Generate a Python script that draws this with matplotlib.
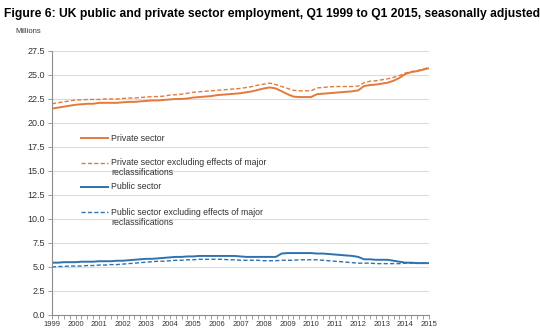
import numpy as np
import matplotlib
matplotlib.use("Agg")
import matplotlib.pyplot as plt
from matplotlib.ticker import MultipleLocator
from matplotlib.lines import Line2D

plt.rcParams['font.family'] = ['Liberation Sans', 'DejaVu Sans']

# Quarterly series, Q1 1999 to Q1 2015 (millions)
private_sector = [
    21.5, 21.6, 21.7, 21.8,
    21.9, 21.95, 22.0, 22.0,
    22.1, 22.1, 22.1, 22.1,
    22.15, 22.2, 22.2, 22.25,
    22.3, 22.35, 22.35, 22.4,
    22.45, 22.5, 22.5, 22.55,
    22.65, 22.7, 22.75, 22.8,
    22.9, 22.95, 23.0, 23.05,
    23.1, 23.2, 23.3, 23.45,
    23.6, 23.7, 23.6, 23.3,
    23.0, 22.75, 22.7, 22.7,
    22.7, 23.0, 23.05, 23.1,
    23.15, 23.2, 23.25, 23.3,
    23.4, 23.85, 23.95, 24.0,
    24.1, 24.2, 24.4, 24.7,
    25.1, 25.3, 25.4, 25.55,
    25.7,
]
private_excl = [
    22.0, 22.1, 22.2, 22.3,
    22.4, 22.4, 22.45, 22.45,
    22.45, 22.5, 22.5, 22.5,
    22.55, 22.6, 22.6, 22.65,
    22.7, 22.75, 22.75, 22.8,
    22.9, 22.95, 23.0, 23.1,
    23.2, 23.25, 23.3, 23.35,
    23.4, 23.45, 23.5, 23.55,
    23.6, 23.7, 23.8, 23.95,
    24.05, 24.15, 24.0, 23.8,
    23.6, 23.4, 23.35, 23.35,
    23.35, 23.65, 23.7, 23.75,
    23.8, 23.8, 23.8, 23.8,
    23.85, 24.2, 24.35, 24.4,
    24.5, 24.6, 24.75, 24.95,
    25.2, 25.35, 25.45, 25.6,
    25.8,
]
public_sector = [
    5.45, 5.45, 5.5, 5.5,
    5.5, 5.55, 5.55, 5.55,
    5.6, 5.6, 5.6, 5.65,
    5.65, 5.7, 5.75, 5.8,
    5.85, 5.85, 5.9, 5.95,
    6.0, 6.05, 6.05, 6.1,
    6.1, 6.15, 6.15, 6.15,
    6.15, 6.15, 6.15, 6.15,
    6.1, 6.05, 6.05, 6.05,
    6.05, 6.05, 6.05, 6.4,
    6.45, 6.45, 6.45, 6.45,
    6.45, 6.4, 6.4, 6.35,
    6.3, 6.25, 6.2, 6.15,
    6.05, 5.8, 5.8, 5.75,
    5.75, 5.75, 5.65, 5.55,
    5.45, 5.45, 5.4, 5.4,
    5.4,
]
public_excl = [
    5.0, 5.05, 5.05, 5.1,
    5.1, 5.1, 5.15, 5.15,
    5.2, 5.2, 5.25, 5.25,
    5.3, 5.35, 5.4, 5.45,
    5.5, 5.55, 5.6, 5.6,
    5.65, 5.7, 5.7, 5.75,
    5.75, 5.8, 5.8, 5.8,
    5.8, 5.8, 5.75, 5.75,
    5.7, 5.7, 5.7, 5.7,
    5.65, 5.65, 5.65, 5.7,
    5.7, 5.7, 5.75, 5.75,
    5.75, 5.75, 5.7, 5.65,
    5.6, 5.55, 5.5, 5.45,
    5.4, 5.4, 5.4, 5.35,
    5.35, 5.35, 5.35, 5.35,
    5.4, 5.4, 5.4, 5.4,
    5.4,
]
years = list(range(1999, 2016))
series_labels = [
    'Private sector',
    'Private sector excluding effects of major\nreclassifications',
    'Public sector',
    'Public sector excluding effects of major\nreclassifications',
]

ORANGE = '#E37A3C'
BLUE = '#2F72AE'
DASH = (0, (3, 1.6))
styles = [
    dict(color=ORANGE, lw=1.4, ls='-'),
    dict(color=ORANGE, lw=1.0, ls=DASH),
    dict(color=BLUE, lw=1.4, ls='-'),
    dict(color=BLUE, lw=1.0, ls=DASH),
]

t = 1999 + np.arange(len(private_sector)) / 4.0

fig = plt.figure(figsize=(5.4, 3.3), dpi=100)
ax = fig.add_axes([0.0963, 0.0455, 0.698, 0.8])

for vals, st in zip([private_sector, private_excl, public_sector, public_excl], styles):
    ax.plot(t, vals, **st)

ax.set_xlim(1999, 2015)
ax.set_ylim(0, 27.5)
yt = np.arange(0, 27.6, 2.5)
ax.set_yticks(yt)
ax.set_yticklabels([f'{v:.1f}' for v in yt])
ax.set_xticks(years)
ax.set_xticklabels([str(y) for y in years])
ax.xaxis.set_minor_locator(MultipleLocator(0.25))

ax.grid(axis='y', color='#dcdcdc', lw=0.8)
ax.set_axisbelow(True)
for s in ('top', 'right'):
    ax.spines[s].set_visible(False)
for s in ('left', 'bottom'):
    ax.spines[s].set_color('#8c8c8c')
    ax.spines[s].set_linewidth(0.8)

ax.tick_params(axis='y', labelsize=6.5, colors='#8c8c8c', labelcolor='#333333',
               length=3, width=0.6, pad=2)
ax.tick_params(axis='x', which='major', labelsize=5.5, colors='#8c8c8c',
               labelcolor='#333333', length=3, width=0.6, pad=1.5)
ax.tick_params(axis='x', which='minor', colors='#8c8c8c', length=3, width=0.6)

# Key: handle sits level with the first line of each label
key_rows = [0.670, 0.576, 0.485, 0.390]
for yk, st, lab in zip(key_rows, styles, series_labels):
    ax.add_line(Line2D([0.077, 0.149], [yk, yk], transform=ax.transAxes, **st))
    ax.text(0.157, yk + 0.017, lab, transform=ax.transAxes, fontsize=6.3,
            color='#333333', ha='left', va='top', linespacing=1.15)

fig.text(0.007, 0.975, 'Figure 6: UK public and private sector employment, Q1 1999 to Q1 2015, seasonally adjusted',
         fontsize=8.7, fontweight='bold', ha='left', va='top')
fig.text(0.028, 0.905, 'Millions', fontsize=5.5, color='#333333', ha='left', va='center')

fig.savefig('out.png', dpi=100)
